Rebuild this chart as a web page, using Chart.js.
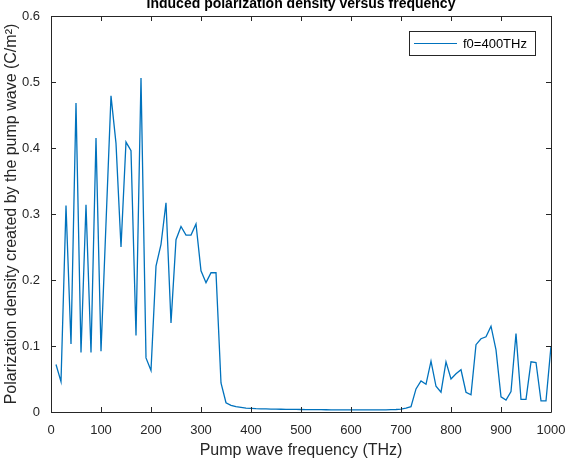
<!DOCTYPE html>
<html>
<head>
<meta charset="utf-8">
<script src="https://cdn.jsdelivr.net/npm/chart.js@4.4.0/dist/chart.umd.min.js"></script>
<style>
  html, body { margin: 0; padding: 0; background: #fff; }
  #wrap { width: 565px; height: 460px; }
</style>
</head>
<body>
<div id="wrap"><canvas id="c" width="565" height="460"></canvas></div>
<script>
var freq = [10, 20, 30, 40, 50, 60, 70, 80, 90, 100,
            110, 120, 130, 140, 150, 160, 170, 180, 190, 200,
            210, 220, 230, 240, 250, 260, 270, 280, 290, 300,
            310, 320, 330, 340, 350, 360, 370, 380, 390, 400,
            410, 420, 430, 440, 450, 460, 470, 480, 490, 500,
            510, 520, 530, 540, 550, 560, 570, 580, 590, 600,
            610, 620, 630, 640, 650, 660, 670, 680, 690, 700,
            710, 720, 730, 740, 750, 760, 770, 780, 790, 800,
            810, 820, 830, 840, 850, 860, 870, 880, 890, 900,
            910, 920, 930, 940, 950, 960, 970, 980, 990, 1000];
var polarization = [0.072, 0.046, 0.313, 0.103, 0.468, 0.090, 0.314, 0.090, 0.415, 0.092,
                    0.286, 0.479, 0.407, 0.250, 0.409, 0.396, 0.116, 0.506, 0.082, 0.063,
                    0.221, 0.254, 0.317, 0.135, 0.261, 0.281, 0.268, 0.268, 0.285, 0.214,
                    0.196, 0.211, 0.211, 0.044, 0.014, 0.010, 0.008, 0.007, 0.006, 0.0055,
                    0.005, 0.0048, 0.0046, 0.0045, 0.0043, 0.0042, 0.0041, 0.0040, 0.0039, 0.0038,
                    0.0037, 0.0036, 0.0035, 0.0035, 0.0034, 0.0033, 0.0033, 0.0032, 0.0032, 0.0031,
                    0.0031, 0.0031, 0.0031, 0.0031, 0.0032, 0.0032, 0.0033, 0.0035, 0.0038, 0.0045,
                    0.006, 0.008, 0.035, 0.047, 0.042, 0.077, 0.039, 0.030, 0.076, 0.050,
                    0.058, 0.064, 0.030, 0.026, 0.102, 0.111, 0.114, 0.130, 0.094, 0.023,
                    0.018, 0.031, 0.119, 0.019, 0.019, 0.076, 0.075, 0.017, 0.017, 0.100];
var xTicks = [0, 100, 200, 300, 400, 500, 600, 700, 800, 900, 1000];
var yTicks = [0, 0.1, 0.2, 0.3, 0.4, 0.5, 0.6];
var seriesName = 'f0=400THz';
var titleText = 'Induced polarization density versus frequency';
var xTitle = 'Pump wave frequency (THz)';
var yTitle = 'Polarization density created by the pump wave (C/m\u00B2)';

var axisColor = '#262626';
var lineColor = '#0072BD';
var fontFam = '"Liberation Sans", Arial, sans-serif';

var pts = [];
for (var i = 0; i < freq.length; i++) {
    pts.push({x: freq[i], y: polarization[i]});
}

// box, inward ticks, titles and legend (matlab look)
var matlabFrame = {
    id: 'matlabFrame',
    afterDraw: function(chart) {
        var ctx = chart.ctx;
        var a = chart.chartArea;
        var xs = chart.scales.x, ys = chart.scales.y;
        var tl = 5;
        ctx.save();
        ctx.strokeStyle = axisColor;
        ctx.lineWidth = 1;
        ctx.beginPath();
        ctx.rect(Math.round(a.left) + 0.5, Math.round(a.top) + 0.5,
                 Math.round(a.right - a.left), Math.round(a.bottom - a.top));
        ctx.stroke();
        ctx.beginPath();
        xTicks.forEach(function(t) {
            var px = Math.round(xs.getPixelForValue(t)) + 0.5;
            ctx.moveTo(px, a.bottom); ctx.lineTo(px, a.bottom - tl);
            ctx.moveTo(px, a.top); ctx.lineTo(px, a.top + tl);
        });
        yTicks.forEach(function(t) {
            var py = Math.round(ys.getPixelForValue(t)) + 0.5;
            ctx.moveTo(a.left, py); ctx.lineTo(a.left + tl, py);
            ctx.moveTo(a.right, py); ctx.lineTo(a.right - tl, py);
        });
        ctx.stroke();

        // title
        ctx.fillStyle = '#000';
        ctx.font = 'bold 14px ' + fontFam;
        ctx.textAlign = 'center';
        ctx.textBaseline = 'alphabetic';
        ctx.fillText(titleText, (a.left + a.right) / 2, 7.5);

        // axis titles
        ctx.fillStyle = axisColor;
        ctx.font = '16px ' + fontFam;
        ctx.textBaseline = 'middle';
        ctx.fillText(xTitle, (a.left + a.right) / 2, 451);
        ctx.save();
        ctx.translate(12, (a.top + a.bottom) / 2);
        ctx.rotate(-Math.PI / 2);
        ctx.fillText(yTitle, 0, 0);
        ctx.restore();

        // legend
        var lx = 409.5, ly = 31.5, lw = 126, lh = 24;
        ctx.fillStyle = '#fff';
        ctx.fillRect(lx, ly, lw, lh);
        ctx.strokeStyle = '#262626';
        ctx.strokeRect(lx, ly, lw, lh);
        ctx.strokeStyle = lineColor;
        ctx.lineWidth = 1.2;
        ctx.beginPath();
        ctx.moveTo(414, 43.5); ctx.lineTo(457, 43.5);
        ctx.stroke();
        ctx.fillStyle = '#000';
        ctx.font = '13px ' + fontFam;
        ctx.textAlign = 'left';
        ctx.fillText(seriesName, 463, 44);
        ctx.restore();
    }
};

var chart = new Chart(document.getElementById('c'), {
    type: 'line',
    data: {
        datasets: [{
            label: seriesName,
            data: pts,
            borderColor: lineColor,
            borderWidth: 1.3,
            pointRadius: 0,
            tension: 0,
            fill: false
        }]
    },
    options: {
        responsive: false,
        animation: false,
        layout: { padding: { left: 0, right: 14, top: 16, bottom: 0 } },
        plugins: {
            legend: { display: false },
            title: { display: false },
            tooltip: { enabled: false }
        },
        scales: {
            x: {
                type: 'linear',
                min: 0, max: 1000,
                afterFit: function(s) {
                    s.height = 48;
                    s.paddingLeft = 0;
                    s.paddingRight = 0;
                },
                afterBuildTicks: function(s) { s.ticks = xTicks.map(function(v) { return {value: v}; }); },
                grid: { display: false, drawTicks: false },
                border: { display: false },
                ticks: {
                    padding: 11,
                    color: axisColor,
                    font: { family: fontFam, size: 13 },
                    maxRotation: 0,
                    callback: function(v) { return String(v); }
                }
            },
            y: {
                type: 'linear',
                min: 0, max: 0.6,
                afterFit: function(s) {
                    s.width = 51;
                    s.paddingTop = 0;
                    s.paddingBottom = 0;
                },
                afterBuildTicks: function(s) { s.ticks = yTicks.map(function(v) { return {value: v}; }); },
                grid: { display: false, drawTicks: false },
                border: { display: false },
                ticks: {
                    padding: 11,
                    color: axisColor,
                    font: { family: fontFam, size: 13 },
                    callback: function(v) { return String(Math.round(v * 10) / 10); }
                }
            }
        }
    },
    plugins: [matlabFrame]
});
</script>
</body>
</html>
